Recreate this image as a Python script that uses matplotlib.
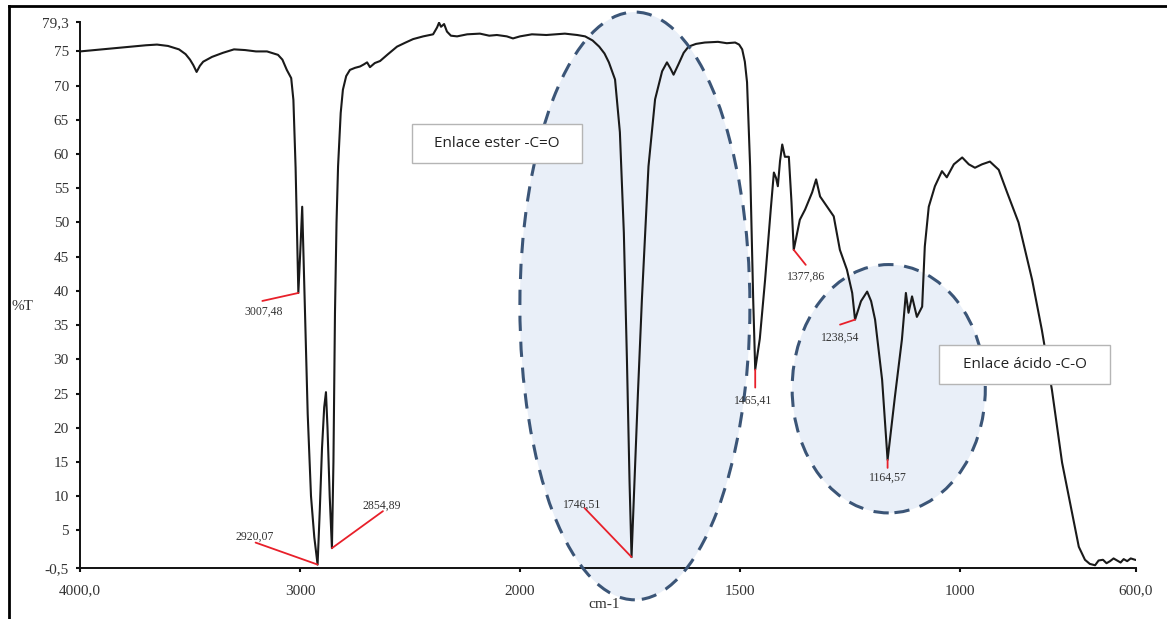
import numpy as np
import matplotlib.pyplot as plt
from matplotlib.patches import Ellipse, Rectangle
from matplotlib.lines import Line2D

# FTIR spectrum (wavenumber cm-1, %T)
wavenumber = [4000, 3900, 3800, 3700, 3650, 3600, 3550, 3520, 3500, 3485, 3470, 3455,
              3440, 3400, 3350, 3300, 3250, 3200, 3150, 3100, 3080, 3060, 3040, 3030,
              3020, 3012, 3007.48, 2997, 2990, 2984, 2977, 2965, 2950, 2935, 2920.07,
              2910, 2900, 2890, 2882, 2875, 2865, 2854.89, 2848, 2841, 2834, 2827, 2815,
              2805, 2790, 2773, 2750, 2727, 2710, 2695, 2682, 2660, 2636, 2600, 2559,
              2520, 2486, 2440, 2395, 2377, 2368, 2359, 2345, 2332, 2314, 2286, 2240,
              2182, 2140, 2105, 2060, 2032, 2000, 1973, 1940, 1898, 1870, 1852, 1835,
              1820, 1808, 1798, 1784, 1773, 1764, 1757, 1751, 1746.51, 1740, 1732, 1723,
              1708, 1693, 1677, 1666, 1658, 1651, 1640, 1628, 1617, 1600, 1580, 1550,
              1530, 1511, 1502, 1495, 1489, 1484, 1477, 1470, 1465.41, 1455, 1443, 1430,
              1423, 1418, 1414, 1409, 1404, 1401, 1398, 1389, 1383, 1377.86, 1370, 1364,
              1352, 1336, 1327, 1318, 1302, 1287, 1273, 1257, 1245, 1238.54, 1225, 1211,
              1202, 1193, 1177, 1164.57, 1148, 1132, 1123, 1117, 1109, 1098, 1086, 1080,
              1071, 1057, 1041, 1030, 1014, 995, 980, 966, 950, 932, 912, 893, 867, 836,
              814, 791, 768, 745, 730, 716, 705, 693, 685, 675, 667, 659, 651, 643, 635,
              628, 620, 612, 602]
transmittance = [75.0, 75.3, 75.6, 75.9, 76.0, 75.8, 75.3, 74.6, 73.8, 73.0, 72.0, 72.9,
                 73.5, 74.2, 74.8, 75.3, 75.2, 75.0, 75.0, 74.5, 73.8, 72.3, 71.1, 67.9,
                 58.0, 46.0, 39.7, 47.0, 52.3, 45.0, 36.0, 22.0, 10.0, 4.0, 0.0,
                 8.0, 17.0, 23.0, 25.2, 20.0, 10.0, 2.4, 15.0, 36.8, 50.0, 58.2, 66.0,
                 69.4, 71.4, 72.3, 72.6, 72.8, 73.1, 73.4, 72.7, 73.3, 73.6, 74.6, 75.7,
                 76.3, 76.8, 77.2, 77.5, 78.5, 79.2, 78.6, 79.0, 77.9, 77.3, 77.2, 77.5,
                 77.6, 77.3, 77.4, 77.2, 76.9, 77.2, 77.5, 77.4, 77.6, 77.4, 77.2, 76.6,
                 75.7, 74.7, 73.4, 70.9, 63.2, 48.5, 30.0, 12.0, 1.1, 12.0, 25.0, 38.7,
                 58.2, 68.0, 72.1, 73.4, 72.5, 71.6, 73.1, 74.8, 75.7, 76.1, 76.3, 76.4,
                 76.2, 76.3, 76.0, 75.3, 73.5, 70.5, 58.2, 38.7, 28.5, 33.0, 41.6, 52.0,
                 57.3, 56.5, 55.3, 59.0, 61.4, 60.5, 59.6, 59.6, 53.0, 46.0, 48.5, 50.4,
                 51.9, 54.4, 56.3, 53.8, 52.3, 50.9, 46.0, 43.1, 39.7, 35.8, 38.5, 39.9,
                 38.5, 35.8, 27.0, 15.3, 24.5, 32.9, 39.7, 36.8, 39.2, 36.2, 37.7, 46.5,
                 52.3, 55.3, 57.5, 56.6, 58.5, 59.5, 58.5, 58.0, 58.5, 58.9, 57.7, 54.4, 50.0, 41.6,
                 34.3, 25.5, 14.9, 7.5, 2.6, 0.7, 0.1, -0.1, 0.6, 0.7, 0.2, 0.5, 0.9, 0.6, 0.3,
                 0.8, 0.5, 0.9, 0.7]

peak_wn = [3007.48, 2920.07, 2854.89, 1746.51, 1465.41, 1377.86, 1238.54, 1164.57]
peak_t = [39.7, 0.0, 2.4, 1.1, 28.5, 46.0, 35.8, 15.3]
peak_labels = ["3007,48", "2920,07", "2854,89", "1746,51", "1465,41", "1377,86", "1238,54", "1164,57"]

x_ticks = [4000, 3000, 2000, 1500, 1000, 600]
x_ticklabels = ["4000,0", "3000", "2000", "1500", "1000", "600,0"]
y_ticks = [-0.5, 5, 10, 15, 20, 25, 30, 35, 40, 45, 50, 55, 60, 65, 70, 75, 79.3]
y_ticklabels = ["-0,5", "5", "10", "15", "20", "25", "30", "35", "40", "45", "50", "55",
                "60", "65", "70", "75", "79,3"]

W, H = 1167, 619
serif = "Liberation Serif"

# red leader line end and label centre, pixels relative to the peak
line_off = [(-36, -8), (-62, 22), (51, 37), (-47, 49), (0, -18), (12, -15), (-15, -5), (0, -8)]
text_off = [(-35, -19), (-63, 28), (50, 42), (-49, 52), (-2, -31), (12, -27), (-15, -18), (0, -18)]


def fwd(x):
    x = np.asarray(x, dtype=float)
    return np.where(x > 2000, 2000 + (x - 2000) / 2, x)


def inv(y):
    y = np.asarray(y, dtype=float)
    return np.where(y > 2000, 2000 + (y - 2000) * 2, y)


fig = plt.figure(figsize=(W / 100, H / 100), dpi=100)
ax = fig.add_axes([80 / W, 1 - 568 / H, (1136 - 80) / W, (568 - 22) / H])
ax.set_xscale('function', functions=(fwd, inv))
ax.set_xlim(4000, 600)
ax.set_ylim(-0.5, 79.3)

# highlighted regions
for (cx, cy, w, h) in [(1739, 37.8, 523, 85.9), (1162, 25.7, 439, 36.3)]:
    ax.add_patch(Ellipse((cx, cy), w, h, facecolor='#e9eff8', edgecolor='none',
                         zorder=1, clip_on=False))
    ax.add_patch(Ellipse((cx, cy), w, h, facecolor='none', edgecolor='#3b5577',
                         lw=2.2, linestyle=(0, (5, 3.5)), zorder=3, clip_on=False))

ax.plot(wavenumber, transmittance, color='#1a1a1a', lw=1.5, zorder=2)

for i in range(len(peak_wn)):
    ax.annotate('', xy=(peak_wn[i], peak_t[i]), xytext=line_off[i], textcoords='offset pixels',
                arrowprops=dict(arrowstyle='-', color='#e8202a', lw=1.3, shrinkA=0, shrinkB=0),
                zorder=4, annotation_clip=False)
    ax.annotate(peak_labels[i], xy=(peak_wn[i], peak_t[i]), xytext=text_off[i],
                textcoords='offset pixels', ha='center', va='center', fontsize=8.5,
                family=serif, color='#333333', zorder=4, annotation_clip=False)

for s in ['top', 'right']:
    ax.spines[s].set_visible(False)
for s in ['left', 'bottom']:
    ax.spines[s].set_linewidth(1.4)
    ax.spines[s].set_color('#111111')

ax.set_xticks(x_ticks)
ax.set_xticklabels(x_ticklabels)
ax.set_yticks(y_ticks)
ax.set_yticklabels(y_ticklabels)
ax.xaxis.set_minor_locator(plt.NullLocator())
ax.tick_params(axis='both', direction='out', length=3, width=1.5, color='#111111',
               labelsize=11, labelcolor='#333333')
ax.tick_params(axis='x', pad=9)
ax.tick_params(axis='y', pad=5)
for lab in ax.get_xticklabels() + ax.get_yticklabels():
    lab.set_family(serif)

fig.text(588 / W, 1 - 605 / H, 'cm-1', ha='left', va='center', fontsize=11,
         family=serif, color='#333333')
fig.text(12 / W, 1 - 306 / H, '%T', ha='left', va='center', fontsize=11,
         family=serif, color='#333333')

# text boxes
for (x0, y0, bw, bh, txt) in [(412, 124, 170, 39, 'Enlace ester -C=O'),
                              (939, 345, 171, 39, 'Enlace ácido -C-O')]:
    fig.add_artist(Rectangle((x0 / W, 1 - (y0 + bh) / H), bw / W, bh / H,
                             transform=fig.transFigure, facecolor='white',
                             edgecolor='#b5b5b5', lw=1, zorder=5))
    fig.text((x0 + bw / 2) / W, 1 - (y0 + bh / 2) / H, txt, ha='center', va='center',
             fontsize=11, family='Open Sans', color='#222222', zorder=6)

# frame lines of the original picture
fig.add_artist(Line2D([9 / W, 9 / W], [0, 1 - 6 / H], transform=fig.transFigure,
                      color='black', lw=2))
fig.add_artist(Line2D([9 / W, 1], [1 - 6 / H, 1 - 6 / H], transform=fig.transFigure,
                      color='black', lw=2))

fig.savefig('out.png', dpi=100)
